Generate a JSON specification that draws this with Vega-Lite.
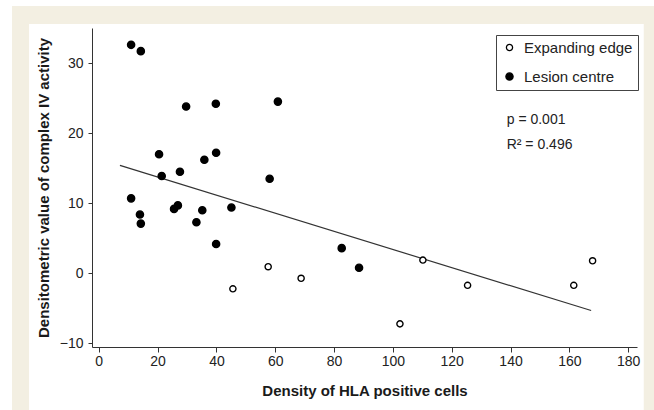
{
  "$schema": "https://vega.github.io/schema/vega-lite/v6.json",
  "width": 545,
  "height": 319,
  "autosize": "none",
  "padding": {"left": 92, "top": 28, "right": 17, "bottom": 63},
  "background": "#ffffff",
  "config": {
    "view": {"stroke": null},
    "font": "Liberation Sans",
    "axis": {
      "grid": false,
      "domainColor": "#333333",
      "tickColor": "#333333",
      "tickSize": 5,
      "labelFont": "Liberation Sans",
      "labelFontSize": 14,
      "labelColor": "#222222",
      "titleFont": "Liberation Sans",
      "titleFontSize": 15,
      "titleFontWeight": "bold",
      "titleColor": "#1a1a1a"
    }
  },
  "datasets": {
    "points": [
      {"density": 11.0, "value": 32.6, "group": "Lesion centre"},
      {"density": 14.3, "value": 31.7, "group": "Lesion centre"},
      {"density": 29.7, "value": 23.8, "group": "Lesion centre"},
      {"density": 39.8, "value": 24.2, "group": "Lesion centre"},
      {"density": 60.9, "value": 24.5, "group": "Lesion centre"},
      {"density": 20.5, "value": 17.0, "group": "Lesion centre"},
      {"density": 39.9, "value": 17.2, "group": "Lesion centre"},
      {"density": 35.9, "value": 16.2, "group": "Lesion centre"},
      {"density": 21.4, "value": 13.9, "group": "Lesion centre"},
      {"density": 27.6, "value": 14.5, "group": "Lesion centre"},
      {"density": 58.1, "value": 13.5, "group": "Lesion centre"},
      {"density": 11.0, "value": 10.7, "group": "Lesion centre"},
      {"density": 25.6, "value": 9.2, "group": "Lesion centre"},
      {"density": 26.9, "value": 9.7, "group": "Lesion centre"},
      {"density": 35.2, "value": 9.0, "group": "Lesion centre"},
      {"density": 45.1, "value": 9.4, "group": "Lesion centre"},
      {"density": 14.0, "value": 8.4, "group": "Lesion centre"},
      {"density": 14.3, "value": 7.1, "group": "Lesion centre"},
      {"density": 33.2, "value": 7.3, "group": "Lesion centre"},
      {"density": 39.9, "value": 4.2, "group": "Lesion centre"},
      {"density": 82.6, "value": 3.6, "group": "Lesion centre"},
      {"density": 88.5, "value": 0.8, "group": "Lesion centre"},
      {"density": 45.6, "value": -2.2, "group": "Expanding edge"},
      {"density": 57.6, "value": 0.95, "group": "Expanding edge"},
      {"density": 68.8, "value": -0.7, "group": "Expanding edge"},
      {"density": 102.4, "value": -7.2, "group": "Expanding edge"},
      {"density": 110.2, "value": 1.9, "group": "Expanding edge"},
      {"density": 125.4, "value": -1.7, "group": "Expanding edge"},
      {"density": 161.5, "value": -1.7, "group": "Expanding edge"},
      {"density": 167.9, "value": 1.8, "group": "Expanding edge"}
    ],
    "fit": [
      {"density": 7.2, "value": 15.4},
      {"density": 167.4, "value": -5.3}
    ],
    "one": [{}]
  },
  "layer": [
    {
      "data": {"name": "one"},
      "mark": {"type": "rect", "fill": "#f3efe2", "clip": false, "zindex": 0},
      "encoding": {
        "x": {"datum": -29.5, "type": "quantitative",
          "scale": {"domain": [-2.3, 183], "nice": false, "zero": false},
          "axis": {"values": [0, 20, 40, 60, 80, 100, 120, 140, 160, 180], "title": "Density of HLA positive cells", "titlePadding": 15, "labelPadding": 2, "zindex": 2}},
        "x2": {"datum": 188.8},
        "y": {"datum": 38.14, "type": "quantitative",
          "scale": {"domain": [-10.5, 35], "nice": false, "zero": false},
          "axis": {"values": [-10, 0, 10, 20, 30], "title": "Densitometric value of complex IV activity", "titlePadding": 8, "tickSize": 4, "labelPadding": 5, "zindex": 2}},
        "y2": {"datum": -20}
      }
    },
    {
      "data": {"name": "one"},
      "mark": {"type": "rect", "fill": "#ffffff", "clip": false, "zindex": 0},
      "encoding": {
        "x": {"datum": -23.7, "type": "quantitative"},
        "x2": {"datum": 185.3},
        "y": {"datum": 35.57, "type": "quantitative"},
        "y2": {"datum": -20}
      }
    },
    {
      "data": {"name": "fit"},
      "mark": {"type": "line", "color": "#333333", "strokeWidth": 1.2},
      "encoding": {
        "x": {"field": "density", "type": "quantitative"},
        "y": {"field": "value", "type": "quantitative"}
      }
    },
    {
      "data": {"name": "points"},
      "mark": {"type": "point", "shape": "circle", "filled": false, "stroke": "#000000", "strokeWidth": 1.4, "opacity": 1},
      "encoding": {
        "x": {"field": "density", "type": "quantitative"},
        "y": {"field": "value", "type": "quantitative"},
        "fill": {
          "field": "group",
          "type": "nominal",
          "scale": {"domain": ["Expanding edge", "Lesion centre"], "range": ["#ffffff", "#000000"]},
          "legend": {
            "title": null,
            "orient": "none",
            "legendX": 404,
            "legendY": 7,
            "padding": 5,
            "strokeColor": "#444444",
            "fillColor": "#ffffff",
            "labelFont": "Liberation Sans",
            "labelFontSize": 15,
            "labelColor": "#222222",
            "symbolType": "circle",
            "symbolOffset": 1,
            "symbolStrokeColor": "#000000",
            "symbolStrokeWidth": 1.3,
            "rowPadding": 13,
            "labelOffset": 7,
            "encode": {"legend": {"update": {"strokeWidth": {"value": 1.2}}}}
          }
        },
        "size": {
          "field": "group",
          "type": "nominal",
          "scale": {"domain": ["Expanding edge", "Lesion centre"], "range": [38, 52]}
        }
      }
    },
    {
      "data": {"name": "one"},
      "mark": {"type": "text", "align": "left", "baseline": "alphabetic", "font": "Liberation Sans", "fontSize": 14, "color": "#222222"},
      "encoding": {
        "x": {"datum": 138.7, "type": "quantitative"},
        "y": {"datum": 21.3, "type": "quantitative"},
        "text": {"value": "p = 0.001"}
      }
    },
    {
      "data": {"name": "one"},
      "mark": {"type": "text", "align": "left", "baseline": "alphabetic", "font": "Liberation Sans", "fontSize": 14, "color": "#222222"},
      "encoding": {
        "x": {"datum": 138.7, "type": "quantitative"},
        "y": {"datum": 17.74, "type": "quantitative"},
        "text": {"value": "R² = 0.496"}
      }
    }
  ]
}
